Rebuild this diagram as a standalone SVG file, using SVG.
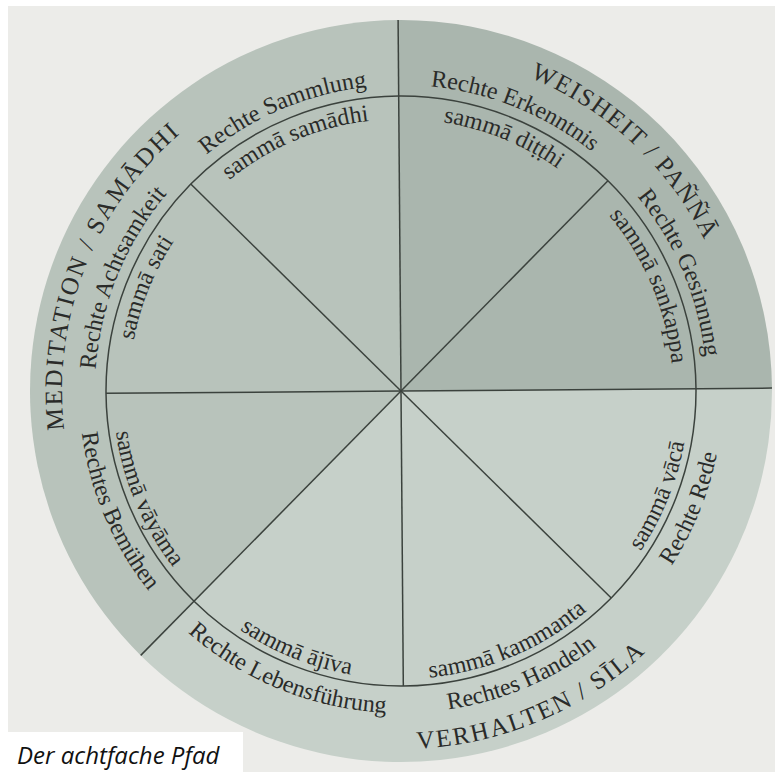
<svg xmlns="http://www.w3.org/2000/svg" width="775" height="772" viewBox="0 0 775 772">
  <style>
    .ring { font-family: "Liberation Serif", "DejaVu Serif", serif; font-size: 24px; fill: #2a2b29; }
    .cat { font-family: "Liberation Serif", "DejaVu Serif", serif; font-size: 25px; fill: #2a2b29; letter-spacing: 2px; }
    .spoke { stroke: #3b423d; stroke-width: 1.5; fill: none; }
    .caption { font-family: "Open Sans", "Liberation Sans", sans-serif; font-style: italic; font-size: 24px; fill: #111111; }
  </style>
  <defs>
    <!-- label baselines: "up" arcs run clockwise over the top, "dn" arcs run counter-clockwise under the bottom -->
    <path id="up306" d="M113.45,286.34 A306,306 0 0 1 688.55,286.34"/>
    <path id="up272" d="M145.40,297.97 A272,272 0 0 1 656.60,297.97"/>
    <path id="up339" d="M82.45,275.06 A339,339 0 0 1 719.55,275.06"/>
    <path id="dn322" d="M98.42,501.13 A322,322 0 0 0 703.58,501.13"/>
    <path id="dn288" d="M130.37,489.50 A288,288 0 0 0 671.63,489.50"/>
    <path id="dn358" d="M64.59,513.44 A358,358 0 0 0 737.41,513.44"/>
  </defs>

  <!-- page -->
  <rect x="0" y="0" width="775" height="772" fill="#ffffff"/>
  <rect x="8" y="6" width="767" height="766" fill="#ecece9"/>
  <rect x="0" y="732" width="243" height="40" fill="#ffffff"/>

  <g id="wheel" transform="rotate(-0.45 401 391)">
    <!-- the three groups of the path as wedges -->
    <g id="sector-weisheit">
      <path d="M401,391 L401,20 A371,371 0 0 1 772,391 Z" fill="#aab6ae"/>
    </g>
    <g id="sector-verhalten">
      <path d="M401,391 L772,391 A371,371 0 0 1 138.66,653.34 Z" fill="#c6d0c9"/>
    </g>
    <g id="sector-meditation">
      <path d="M401,391 L138.66,653.34 A371,371 0 0 1 401,20 Z" fill="#b8c3bb"/>
    </g>

    <g id="connectors">
      <circle cx="401" cy="391" r="295" class="spoke"/>
      <line x1="401" y1="391" x2="401" y2="20" class="spoke"/>
      <line x1="401" y1="391" x2="772" y2="391" class="spoke"/>
      <line x1="401" y1="391" x2="138.66" y2="653.34" class="spoke"/>
      <line x1="401" y1="391" x2="192.4" y2="182.4" class="spoke"/>
      <line x1="401" y1="391" x2="609.6" y2="182.4" class="spoke"/>
      <line x1="401" y1="391" x2="609.6" y2="599.6" class="spoke"/>
      <line x1="401" y1="391" x2="401" y2="686" class="spoke"/>
      <line x1="401" y1="391" x2="106" y2="391" class="spoke"/>
    </g>

    <!-- group titles -->
    <g id="title-weisheit" transform="rotate(43.5 401 391)">
      <text class="cat" style="letter-spacing:1.5px"><textPath href="#up339" startOffset="50%" text-anchor="middle">WEISHEIT / PAÑÑĀ</textPath></text>
    </g>
    <g id="title-meditation" transform="rotate(-68 401 391)">
      <text class="cat" style="letter-spacing:2.2px"><textPath href="#up339" startOffset="50%" text-anchor="middle">MEDITATION / SAMĀDHI</textPath></text>
    </g>
    <g id="title-verhalten" transform="rotate(-22.5 401 391)">
      <text class="cat"><textPath href="#dn358" startOffset="50%" text-anchor="middle">VERHALTEN / SĪLA</textPath></text>
    </g>

    <!-- the eight steps -->
    <g id="step-sammlung" transform="rotate(-22.5 401 391)">
      <text class="ring"><textPath href="#up306" startOffset="50%" text-anchor="middle">Rechte Sammlung</textPath></text>
      <text class="ring"><textPath href="#up272" startOffset="50%" text-anchor="middle">sammā samādhi</textPath></text>
    </g>
    <g id="step-erkenntnis" transform="rotate(22.5 401 391)">
      <text class="ring"><textPath href="#up306" startOffset="50%" text-anchor="middle">Rechte Erkenntnis</textPath></text>
      <text class="ring"><textPath href="#up272" startOffset="50%" text-anchor="middle">sammā diṭṭhi</textPath></text>
    </g>
    <g id="step-gesinnung" transform="rotate(67.5 401 391)">
      <text class="ring"><textPath href="#up306" startOffset="50%" text-anchor="middle">Rechte Gesinnung</textPath></text>
      <text class="ring"><textPath href="#up272" startOffset="50%" text-anchor="middle">sammā sankappa</textPath></text>
    </g>
    <g id="step-achtsamkeit" transform="rotate(-67.5 401 391)">
      <text class="ring"><textPath href="#up306" startOffset="50%" text-anchor="middle">Rechte Achtsamkeit</textPath></text>
      <text class="ring"><textPath href="#up272" startOffset="50%" text-anchor="middle">sammā sati</textPath></text>
    </g>
    <g id="step-rede" transform="rotate(-67.5 401 391)">
      <text class="ring"><textPath href="#dn322" startOffset="50%" text-anchor="middle">Rechte Rede</textPath></text>
      <text class="ring"><textPath href="#dn288" startOffset="50%" text-anchor="middle">sammā vācā</textPath></text>
    </g>
    <g id="step-handeln" transform="rotate(-22.5 401 391)">
      <text class="ring"><textPath href="#dn322" startOffset="50%" text-anchor="middle">Rechtes Handeln</textPath></text>
      <text class="ring"><textPath href="#dn288" startOffset="50%" text-anchor="middle">sammā kammanta</textPath></text>
    </g>
    <g id="step-lebensfuehrung" transform="rotate(22.5 401 391)">
      <text class="ring"><textPath href="#dn322" startOffset="50%" text-anchor="middle">Rechte Lebensführung</textPath></text>
      <text class="ring"><textPath href="#dn288" startOffset="50%" text-anchor="middle">sammā ājīva</textPath></text>
    </g>
    <g id="step-bemuehen" transform="rotate(67.5 401 391)">
      <text class="ring"><textPath href="#dn322" startOffset="50%" text-anchor="middle">Rechtes Bemühen</textPath></text>
      <text class="ring"><textPath href="#dn288" startOffset="50%" text-anchor="middle">sammā vāyāma</textPath></text>
    </g>
  </g>

  <g id="caption">
    <text class="caption" x="17" y="764">Der achtfache Pfad</text>
  </g>
</svg>
